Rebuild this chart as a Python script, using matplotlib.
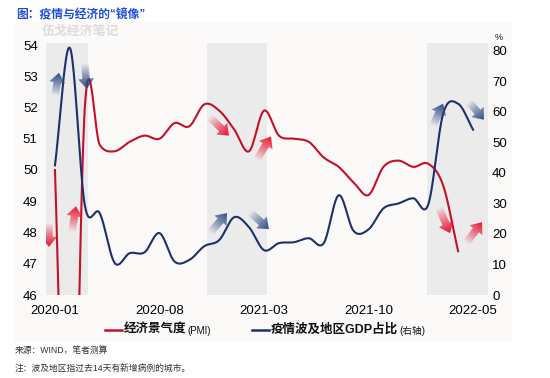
import numpy as np
import pandas as pd
import matplotlib.pyplot as plt
from matplotlib.patches import Polygon, Rectangle
from matplotlib.lines import Line2D
from matplotlib.transforms import Affine2D, IdentityTransform
from matplotlib.colors import to_rgb

plt.rcParams['font.family'] = ['Liberation Sans', 'Noto Sans CJK SC']

# monthly data, 2020-01 .. 2022-05
months = pd.period_range('2020-01', '2022-05', freq='M').strftime('%Y-%m').tolist()
pmi = [50.0, 35.7, 52.0, 50.8, 50.6, 50.9, 51.1, 51.0, 51.5, 51.4, 52.1, 51.9,
       51.3, 50.6, 51.9, 51.1, 51.0, 50.9, 50.4, 50.1, 49.6, 49.2, 50.1, 50.3,
       50.1, 50.2, 49.5, 47.4]
gdp_share = [42.5, 81.0, 29.4, 26.8, 10.5, 13.7, 14.0, 20.3, 11.0, 11.5, 16.0, 18.0,
             25.5, 22.2, 14.7, 17.0, 17.3, 18.6, 17.0, 32.7, 21.0, 21.5, 28.4, 30.0,
             31.7, 29.7, 59.5, 62.7, 54.2]
tick_every = 7

# epidemic waves (shaded), in month-index units
wave_spans = [(-0.6, 2.2), (10.2, 14.2), (24.9, 29.0)]

# direction arrows (month index, PMI scale): start -> end
red_arrows = [((-0.40, 48.30), (-0.40, 47.54)), ((1.14, 48.01), (1.41, 48.84)),
              ((10.38, 51.68), (11.65, 51.10)), ((13.53, 50.34), (14.47, 51.07)),
              ((25.72, 48.78), (26.46, 47.98)), ((27.53, 47.66), (28.60, 48.33))]
blue_arrows = [((0.00, 52.38), (0.27, 53.11)), ((2.01, 53.39), (2.14, 52.60)),
               ((10.38, 47.98), (11.52, 48.62)), ((13.06, 48.65), (14.33, 48.11)),
               ((25.32, 51.42), (25.99, 52.12)), ((27.73, 52.18), (28.73, 51.61))]

RED = '#c3112b'
BLUE = '#1e2f6e'
W, H = 550, 378


def smooth(y, n=24):
    # Catmull-Rom, like Excel's smoothed line
    y = np.asarray(y, float)
    x = np.arange(len(y), dtype=float)
    px = np.concatenate([[2 * x[0] - x[1]], x, [2 * x[-1] - x[-2]]])
    py = np.concatenate([[2 * y[0] - y[1]], y, [2 * y[-1] - y[-2]]])
    t = np.linspace(0, 1, n, endpoint=False)
    xs, ys = [], []
    for i in range(1, len(px) - 2):
        for p, out in ((px, xs), (py, ys)):
            p0, p1, p2, p3 = p[i - 1], p[i], p[i + 1], p[i + 2]
            out.append(0.5 * (2 * p1 + (p2 - p0) * t + (2 * p0 - 5 * p1 + 4 * p2 - p3) * t ** 2
                              + (3 * p1 - p0 - 3 * p2 + p3) * t ** 3))
    return np.append(np.concatenate(xs), x[-1]), np.append(np.concatenate(ys), y[-1])


def grad_arrow(ax, data_ax, start, end, color, w=7.5, hw=16, hl=10):
    p0 = data_ax.transData.transform(start)
    p1 = data_ax.transData.transform(end)
    d = p1 - p0
    L = np.hypot(*d)
    u = d / L
    nv = np.array([-u[1], u[0]])
    b = p0 + u * (L - hl)
    pts = [p0 + nv * w / 2, b + nv * w / 2, b + nv * hw / 2, p1,
           b - nv * hw / 2, b - nv * w / 2, p0 - nv * w / 2]
    poly = Polygon(pts, closed=True, transform=IdentityTransform())
    img = np.zeros((1, 100, 4))
    img[..., :3] = to_rgb(color)
    img[..., 3] = np.linspace(0.0, 1.0, 100) ** 0.9
    o = p0 - nv * hw / 2
    tr = Affine2D(np.array([[L * u[0], hw * nv[0], o[0]],
                            [L * u[1], hw * nv[1], o[1]],
                            [0, 0, 1]]))
    im = ax.imshow(img, extent=(0, 1, 0, 1), transform=tr, aspect='auto',
                   interpolation='bilinear', zorder=5)
    im.set_clip_path(poly)


fig = plt.figure(figsize=(W / 100, H / 100), dpi=100)
fig.patch.set_facecolor('white')
fig.add_artist(Rectangle((15 / W, 1 - 342 / H), 497 / W, 320 / H, transform=fig.transFigure,
                         facecolor='#fbfaf8', edgecolor='none', zorder=-10))

ax = fig.add_axes([46 / W, 1 - 295 / H, 442 / W, 250 / H])
ax.set_facecolor('none')
ax2 = ax.twinx()

for a, b in wave_spans:
    ax.axvspan(a, b, ymin=0, ymax=1.008, color='#ebebeb', lw=0, zorder=0, clip_on=False)

xs, ys = smooth(pmi)
ax.plot(xs, ys, color=RED, lw=1.5, zorder=3)
xs, ys = smooth(gdp_share)
ax2.plot(xs, ys, color=BLUE, lw=1.5, zorder=3)

ax.set_xlim(-0.6, 29.0)
ax.set_ylim(46, 54)
ax2.set_ylim(0, 81.96)
ax.set_yticks(np.arange(46, 55, 1))
ax2.set_yticks(np.arange(0, 81, 10))
ax.set_xticks(np.arange(0, len(months), tick_every))
ax.set_xticklabels(months[::tick_every])

for a in (ax, ax2):
    for s in a.spines.values():
        s.set_visible(False)
    a.tick_params(length=0, labelsize=9.5, colors='#000000')
ax.tick_params(axis='y', pad=6)
ax.tick_params(axis='x', pad=7)
ax2.tick_params(axis='y', pad=3)
fig.text(495 / W, 1 - 37 / H, '%', fontsize=6.5, ha='left', va='center', color='#111111')

ax2.set_autoscale_on(False)
for s, e in red_arrows:
    grad_arrow(ax2, ax, s, e, '#e8122d')
for s, e in blue_arrows:
    grad_arrow(ax2, ax, s, e, '#2b4682')
ax2.set_ylim(0, 81.96)
ax2.set_xlim(-0.6, 29.0)

# titles and watermark
fig.text(16 / W, 1 - 15 / H, '图：疫情与经济的“镜像”', fontsize=8.5, weight='bold',
         color='#1f4fdc', va='center', ha='left')
fig.text(42 / W, 1 - 32 / H, '伍戈经济笔记', fontsize=9.3, weight='bold',
         color='#dcdcdc', va='center', ha='left')

# legend
renderer = fig.canvas.get_renderer()


def legend_item(x, y, color, main, sub):
    fig.add_artist(Line2D([x / W, (x + 17) / W], [1 - y / H] * 2, color=color, lw=1.8,
                          transform=fig.transFigure))
    t = fig.text((x + 19) / W, 1 - y / H, main, fontsize=9.0, weight='bold',
                 va='center', ha='left', color='#111111')
    bb = t.get_window_extent(renderer)
    fig.text(bb.x1 / W + 1 / W, 1 - (y + 1) / H, sub, fontsize=7.0, va='center', ha='left',
             color='#111111')


legend_item(105, 330, RED, '经济景气度', '(PMI)')
legend_item(252, 330, BLUE, '疫情波及地区GDP占比', '(右轴)')

fig.text(15 / W, 1 - 350 / H, '来源：WIND，笔者测算', fontsize=6.3, color='#333333',
         va='center', ha='left')
fig.text(15 / W, 1 - 368 / H, '注：波及地区指过去14天有新增病例的城市。', fontsize=6.3,
         color='#333333', va='center', ha='left')

fig.savefig('out.png', dpi=100, facecolor='white')
